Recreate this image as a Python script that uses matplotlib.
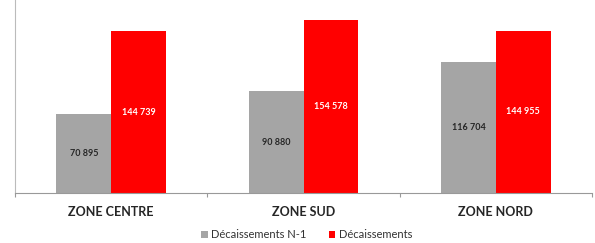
import matplotlib
matplotlib.use("Agg")
import matplotlib.pyplot as plt
import numpy as np

categories = ["ZONE CENTRE", "ZONE SUD", "ZONE NORD"]
series_names = ["Décaissements N-1", "Décaissements"]
values_n1 = [70895, 90880, 116704]
values_n = [144739, 154578, 144955]
labels_n1 = ["70 895", "90 880", "116 704"]
labels_n = ["144 739", "154 578", "144 955"]

gray = "#A5A5A5"
red = "#FF0000"

plt.rcParams['font.family'] = ['Lato', 'DejaVu Sans']

fig = plt.figure(figsize=(5.95, 2.43), dpi=100)
ax = fig.add_axes([15/595, 1 - 193/243, (592-15)/595, 193/243])

x = np.arange(len(categories))
w = 0.285
b1 = ax.bar(x - w/2, values_n1, w, color=gray, label=series_names[0])
b2 = ax.bar(x + w/2, values_n, w, color=red, label=series_names[1])

for rect, lab in zip(b1, labels_n1):
    ax.text(rect.get_x() + rect.get_width()/2, rect.get_height()/2, lab,
            ha='center', va='center', fontsize=6.5, fontweight='bold', color='#262626')
for rect, lab in zip(b2, labels_n):
    ax.text(rect.get_x() + rect.get_width()/2, rect.get_height()/2, lab,
            ha='center', va='center', fontsize=6.5, fontweight='bold', color='white')

ax.set_xlim(-0.5, len(categories) - 0.5)
ax.set_ylim(0, 172500)

ax.set_xticks(x)
ax.set_xticklabels(categories, fontsize=9, fontweight='bold', color='#262626')
ax.set_xticks(np.arange(len(categories) + 1) - 0.5, minor=True)
ax.tick_params(axis='x', which='major', length=0, pad=9)
ax.tick_params(axis='x', which='minor', length=3, color='#999999', width=0.8)
ax.set_yticks([])

for s in ['top', 'right']:
    ax.spines[s].set_visible(False)
ax.spines['left'].set_color('#BBBBBB')
ax.spines['bottom'].set_color('#999999')
ax.spines['left'].set_linewidth(0.8)
ax.spines['bottom'].set_linewidth(0.8)

leg = fig.legend(loc='lower center', bbox_to_anchor=(0.515, -0.03), ncol=2, frameon=False,
                 fontsize=8, handlelength=0.6, handleheight=0.6, handletextpad=0.3,
                 columnspacing=2.0)
for t in leg.get_texts():
    t.set_color('#333333')

fig.savefig("out.png", dpi=100)
